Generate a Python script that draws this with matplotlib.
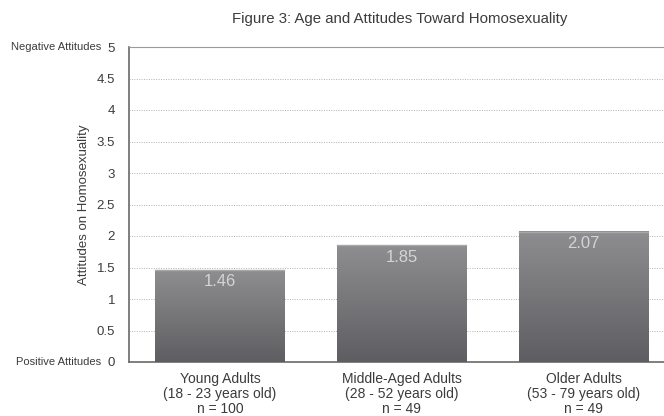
import numpy as np
import matplotlib.pyplot as plt
from matplotlib.colors import LinearSegmentedColormap

plt.rcParams['font.family'] = ['Liberation Sans', 'DejaVu Sans']

groups = ['Young Adults\n(18 - 23 years old)\nn = 100',
          'Middle-Aged Adults\n(28 - 52 years old)\nn = 49',
          'Older Adults\n(53 - 79 years old)\nn = 49']
scores = [1.46, 1.85, 2.07]
yticks = [0, 0.5, 1, 1.5, 2, 2.5, 3, 3.5, 4, 4.5, 5]

text_col = '#3c3c3c'
fig = plt.figure(figsize=(6.64, 4.16), dpi=100)
ax = fig.add_axes([129 / 664, 1 - 362 / 416, 540 / 664, 315 / 416])

x = np.arange(len(scores))
width = 0.71
bars = ax.bar(x, scores, width=width, color='none', zorder=3)

# vertical gray gradient inside each bar
shade = LinearSegmentedColormap.from_list('shade', ['#5e5e62', '#8e8e90'])
grad = np.linspace(0, 1, 256).reshape(-1, 1)
for b in bars:
    x0, h = b.get_x(), b.get_height()
    ax.imshow(grad, cmap=shade, origin='lower', aspect='auto',
              extent=(x0, x0 + width, 0, h), zorder=3)
    ax.plot([x0, x0 + width], [h, h], color='#a8a8aa', lw=1, zorder=4)

for xi, v in zip(x, scores):
    ax.text(xi, v - 0.07, f'{v:.2f}', ha='center', va='top',
            color='#d4d4d4', fontsize=12, zorder=5)

ax.set_xlim(-0.5, 2.47)
ax.set_ylim(0, 5)
ax.set_yticks(yticks)
ax.set_yticklabels([f'{t:g}' for t in yticks], fontsize=9.5, color=text_col)
ax.set_xticks(x)
ax.set_xticklabels(groups, fontsize=10, color=text_col, linespacing=1.1)
ax.tick_params(length=0, pad=10)
ax.tick_params(axis='x', pad=7)
ax.yaxis.grid(True, linestyle=(0, (1, 1.5)), color='#b0b0b0', lw=0.7)
ax.set_axisbelow(True)

for side in ['left', 'bottom']:
    ax.spines[side].set_color('#6a6a6a')
    ax.spines[side].set_linewidth(1.2)
for side in ['top', 'right']:
    ax.spines[side].set_color('#9a9a9a')
    ax.spines[side].set_linewidth(0.8)

ax.set_ylabel('Attitudes on Homosexuality', fontsize=9.5, color=text_col)
ax.yaxis.set_label_coords(-0.072, 0.5)
ax.text(-0.052, 5, 'Negative Attitudes', transform=ax.get_yaxis_transform(),
        ha='right', va='center', fontsize=8, color=text_col)
ax.text(-0.052, 0, 'Positive Attitudes', transform=ax.get_yaxis_transform(),
        ha='right', va='center', fontsize=8, color=text_col)

fig.text(400 / 664, 1 - 19 / 416, 'Figure 3: Age and Attitudes Toward Homosexuality',
         ha='center', va='center', fontsize=10.8, color=text_col)

fig.savefig('out.png', dpi=100)
